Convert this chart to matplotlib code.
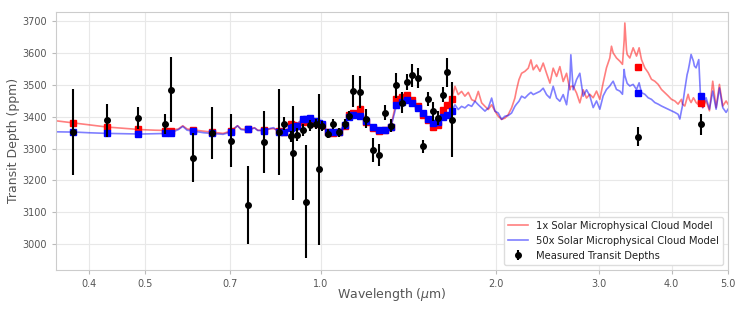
import numpy as np
import matplotlib
matplotlib.use("Agg")
import matplotlib.pyplot as plt
from matplotlib.ticker import FixedLocator, FixedFormatter, NullLocator

# measured transit depths
wav_obs = [0.3755, 0.430, 0.4855, 0.540, 0.554, 0.603, 0.652, 0.701, 0.750, 0.798,
           0.847, 0.864, 0.888, 0.896, 0.911, 0.932, 0.945, 0.957, 0.982, 0.9945,
           1.004, 1.028, 1.051, 1.075, 1.099, 1.120, 1.137, 1.168, 1.197, 1.228,
           1.257, 1.288, 1.318, 1.348, 1.377, 1.404, 1.436, 1.469, 1.498, 1.528,
           1.558, 1.588, 1.619, 1.647, 1.678, 3.50, 4.50]
depth_obs = [3352, 3389, 3397, 3378, 3485, 3271, 3350, 3325, 3123, 3322,
             3352, 3378, 3339, 3286, 3344, 3358, 3133, 3373, 3378, 3235,
             3372, 3347, 3378, 3352, 3377, 3403, 3480, 3477, 3394, 3297,
             3280, 3413, 3372, 3499, 3445, 3509, 3530, 3522, 3307, 3456,
             3417, 3395, 3470, 3540, 3391, 3338, 3377]
err_obs = [135, 52, 35, 32, 102, 77, 82, 84, 122, 97,
           134, 20, 18, 147, 20, 18, 177, 16, 15, 238,
           15, 14, 15, 14, 15, 14, 50, 50, 30, 38,
           36, 23, 20, 40, 32, 26, 35, 30, 21, 21,
           29, 22, 23, 45, 118, 29, 33]

# binned models at the measured wavelengths
bin_1x = [3381, 3368, 3361, 3357, 3357, 3360, 3352, 3355, 3361, 3358,
          3355, 3353, 3378, 3375, 3372, 3385, 3388, 3390, 3382, 3378,
          3374, 3352, 3349, 3352, 3372, 3405, 3412, 3424, 3384, 3364,
          3357, 3358, 3368, 3456, 3462, 3470, 3454, 3433, 3407, 3390,
          3368, 3375, 3420, 3438, 3457, 3557, 3443]
bin_50x = [3351, 3348, 3346, 3349, 3350, 3357, 3348, 3353, 3361, 3357,
           3352, 3352, 3364, 3368, 3372, 3393, 3394, 3396, 3387, 3380,
           3376, 3353, 3352, 3352, 3375, 3399, 3405, 3403, 3388, 3368,
           3359, 3359, 3368, 3436, 3447, 3454, 3443, 3428, 3412, 3393,
           3382, 3385, 3399, 3407, 3417, 3474, 3467]

# model spectra
wav_model = [0.33, 0.35, 0.38, 0.40, 0.43, 0.46, 0.49, 0.52, 0.55, 0.57, 0.58, 0.59,
             0.61, 0.63, 0.65, 0.68, 0.70, 0.72, 0.73, 0.75, 0.77, 0.78, 0.80,
             0.82, 0.83, 0.85, 0.87, 0.89, 0.92, 0.95, 0.97, 1.00, 1.03, 1.06,
             1.09, 1.12, 1.15, 1.18, 1.21, 1.25, 1.29, 1.32, 1.35, 1.38, 1.42,
             1.46, 1.50, 1.54, 1.57, 1.60, 1.64, 1.68,
             1.700, 1.722, 1.745, 1.768, 1.792, 1.816, 1.840, 1.864, 1.889, 1.914,
             1.939, 1.965, 1.991, 2.017, 2.044, 2.071, 2.098, 2.126, 2.154, 2.168,
             2.189, 2.212, 2.241, 2.271, 2.295, 2.316, 2.347, 2.378, 2.409, 2.441,
             2.474, 2.506, 2.540, 2.573, 2.607, 2.642, 2.677, 2.687, 2.712, 2.748,
             2.784, 2.821, 2.859, 2.896, 2.935, 2.974, 3.013, 3.053, 3.093, 3.134,
             3.155, 3.176, 3.218, 3.261, 3.295, 3.317, 3.326, 3.348, 3.357, 3.392,
             3.437, 3.483, 3.519, 3.552, 3.599, 3.647, 3.695, 3.744, 3.794, 3.844,
             3.895, 3.946, 3.999, 4.052, 4.105, 4.133, 4.160, 4.176, 4.215, 4.254,
             4.271, 4.292, 4.321, 4.361, 4.378, 4.407, 4.436, 4.454, 4.483, 4.525,
             4.585, 4.646, 4.707, 4.770, 4.833, 4.897, 4.962, 5.0]
model_1x = [3392, 3388, 3380, 3375, 3368, 3364, 3360, 3358, 3357, 3362, 3372, 3362,
            3358, 3355, 3352, 3348, 3355, 3372, 3362, 3360, 3366, 3358, 3358,
            3362, 3363, 3355, 3356, 3372, 3383, 3390, 3388, 3375, 3352, 3350,
            3362, 3405, 3418, 3410, 3375, 3360, 3358, 3370, 3455, 3462, 3458,
            3438, 3410, 3385, 3370, 3380, 3430, 3458,
            3496, 3470, 3480, 3465, 3477, 3454, 3449, 3480, 3444, 3433,
            3423, 3438, 3418, 3402, 3392, 3396, 3407, 3428, 3459, 3485,
            3517, 3537, 3543, 3553, 3579, 3548, 3563, 3543, 3569, 3537,
            3506, 3553, 3527, 3558, 3511, 3537, 3485, 3496, 3496, 3475,
            3444, 3485, 3459, 3471, 3460, 3481, 3455, 3507, 3554, 3585,
            3622, 3601, 3585, 3575, 3565, 3640, 3695, 3610, 3596, 3585,
            3617, 3591, 3617, 3580, 3554, 3539, 3518, 3512, 3502, 3486,
            3476, 3466, 3455, 3450, 3440, 3448, 3455, 3440, 3434, 3460,
            3471, 3455, 3445, 3460, 3455, 3445, 3440, 3455, 3445, 3429,
            3450, 3419, 3512, 3429, 3502, 3434, 3450, 3440]
model_50x = [3353, 3353, 3352, 3350, 3348, 3347, 3346, 3347, 3348, 3360, 3370, 3358,
             3354, 3350, 3348, 3345, 3352, 3372, 3360, 3357, 3365, 3357, 3357,
             3364, 3366, 3352, 3352, 3365, 3385, 3396, 3392, 3378, 3353, 3352,
             3366, 3400, 3405, 3400, 3378, 3362, 3358, 3368, 3438, 3450, 3446,
             3430, 3410, 3390, 3382, 3388, 3405, 3420,
             3438, 3423, 3433, 3428, 3438, 3433, 3449, 3438, 3428, 3418,
             3428, 3459, 3418, 3412, 3392, 3402, 3404, 3412, 3433, 3440,
             3449, 3465, 3459, 3470, 3477, 3470, 3475, 3480, 3490, 3470,
             3459, 3496, 3459, 3449, 3470, 3438, 3517, 3595, 3485, 3517,
             3537, 3465, 3485, 3466, 3429, 3450, 3424, 3466, 3486, 3497,
             3505, 3512, 3486, 3481, 3471, 3549, 3530, 3512, 3505, 3497,
             3502, 3486, 3507, 3476, 3471, 3460, 3455, 3445, 3440, 3434,
             3429, 3424, 3419, 3414, 3408, 3393, 3420, 3434, 3486, 3533,
             3545, 3565, 3596, 3575, 3560, 3554, 3570, 3580, 3471, 3429,
             3460, 3424, 3481, 3424, 3491, 3429, 3414, 3424]

tick_vals = [0.4, 0.5, 0.7, 1.0, 2.0, 3.0, 4.0, 5.0]
tick_labels = ["0.4", "0.5", "0.7", "1.0", "2.0", "3.0", "4.0", "5.0"]

fig = plt.figure(figsize=(7.47, 3.12), dpi=100)
ax = fig.add_axes([0.075, 0.135, 0.8996, 0.827])

ax.plot(wav_model, model_1x, color="red", alpha=0.5, lw=1.2,
        label="1x Solar Microphysical Cloud Model")
ax.plot(wav_model, model_50x, color="blue", alpha=0.5, lw=1.2,
        label="50x Solar Microphysical Cloud Model")
ax.plot(wav_obs, bin_1x, "s", color="red", ms=4, zorder=3)
ax.plot(wav_obs, bin_50x, "s", color="blue", ms=4, zorder=3)
ax.errorbar(wav_obs, depth_obs, yerr=err_obs, fmt="o", color="black", ms=4,
            elinewidth=1.5, ecolor="black", zorder=4, label="Measured Transit Depths")

ax.set_xscale("log")
ax.set_xlim(0.3515, 5.0)
ax.set_ylim(2919, 3730)
ax.xaxis.set_major_locator(FixedLocator(tick_vals))
ax.xaxis.set_major_formatter(FixedFormatter(tick_labels))
ax.xaxis.set_minor_locator(NullLocator())
ax.set_yticks([3000, 3100, 3200, 3300, 3400, 3500, 3600, 3700])

ax.grid(True, color="#e8e8e8", lw=0.8)
ax.set_axisbelow(True)
for s in ax.spines.values():
    s.set_color("#cccccc")
ax.tick_params(colors="#bbbbbb", labelcolor="#555555", labelsize=7, length=3)
ax.set_xlabel("Wavelength ($\\mu$m)", color="#555555", fontsize=9)
ax.set_ylabel("Transit Depth (ppm)", color="#555555", fontsize=9)
ax.xaxis.set_label_coords(0.5, -0.062)
ax.yaxis.set_label_coords(-0.054, 0.5)

leg = ax.legend(loc="lower right", fontsize=7.2, frameon=True, framealpha=1)
leg.get_frame().set_edgecolor("#dddddd")
for t in leg.get_texts():
    t.set_color("#222222")

fig.savefig("out.png", dpi=100)
